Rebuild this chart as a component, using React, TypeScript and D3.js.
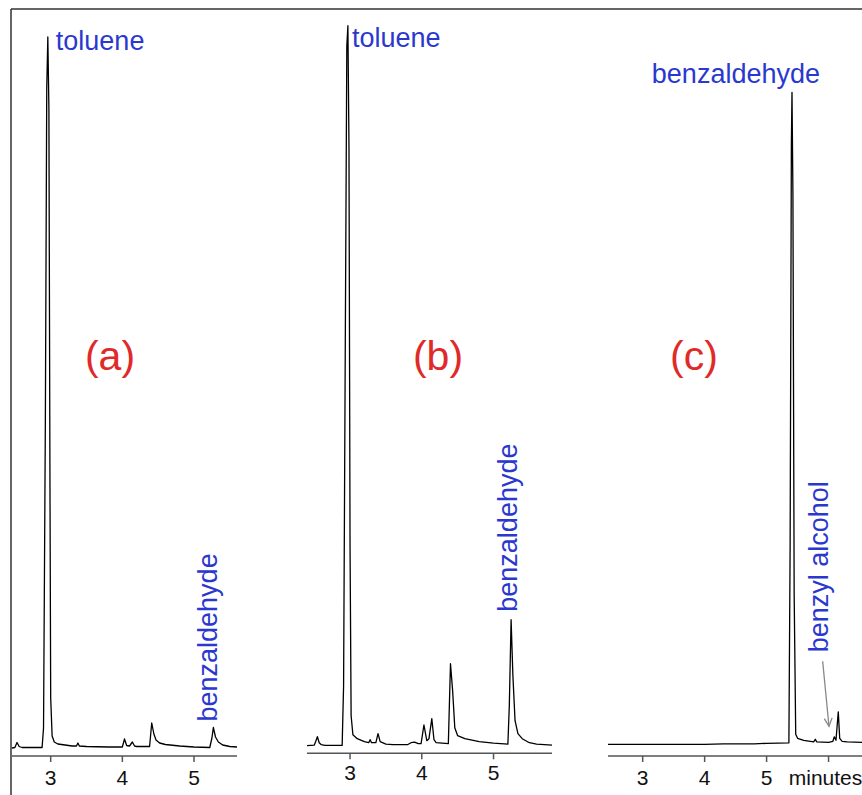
import React from "react";
import * as d3 from "d3";

// ---- data: chromatogram traces as [time (min), detector signal (a.u.)] ----
const traceA: [number, number][] = [
  [2.46, 0], [2.5, 0.5], [2.53, 5.5], [2.56, 1.5], [2.6, 0.5], [2.88, 0.5],
  [2.9, 20], [2.925, 320], [2.945, 660], [2.96, 711], [2.975, 640], [2.99, 260],
  [3.0, 50], [3.02, 12], [3.05, 6], [3.1, 4], [3.2, 3], [3.3, 2], [3.36, 2],
  [3.38, 5], [3.4, 2], [3.5, 1.5], [3.8, 1], [4.0, 1], [4.03, 9], [4.06, 2.5],
  [4.1, 2], [4.14, 6], [4.17, 2], [4.2, 1.5], [4.38, 1.5], [4.41, 25], [4.44, 14],
  [4.47, 8], [4.52, 5], [4.6, 3.5], [4.8, 2], [5.0, 1], [5.22, 0.5], [5.25, 10],
  [5.27, 20.5], [5.3, 11], [5.34, 6], [5.4, 3], [5.5, 1.5], [5.6, 1],
];

const traceB: [number, number][] = [
  [2.4, 0], [2.5, 0.5], [2.52, 4], [2.545, 9], [2.57, 3], [2.6, 1], [2.65, 0.3],
  [2.89, 0.3], [2.91, 60], [2.935, 420], [2.955, 700], [2.97, 720], [2.985, 600],
  [3.0, 200], [3.015, 30], [3.04, 11], [3.1, 7], [3.2, 4], [3.26, 3], [3.28, 6],
  [3.3, 3], [3.36, 3], [3.39, 12], [3.42, 4], [3.5, 1.5], [3.6, 1], [3.8, 1],
  [3.85, 3], [3.9, 3.5], [3.95, 2], [3.99, 2], [4.03, 20.7], [4.07, 5], [4.1, 7],
  [4.14, 27], [4.17, 6], [4.2, 3], [4.37, 2], [4.4, 82], [4.43, 55], [4.46, 18],
  [4.5, 10], [4.6, 7], [4.8, 4], [5.0, 2.5], [5.2, 1.5], [5.22, 40], [5.245, 126],
  [5.27, 70], [5.3, 25], [5.34, 12], [5.4, 7], [5.5, 3], [5.6, 1.5], [5.815, 0.5],
];

const traceC: [number, number][] = [
  [2.44, 0], [4.0, 0], [4.3, 0.5], [4.8, 0.5], [5.0, 1], [5.36, 1.5], [5.38, 200],
  [5.4, 600], [5.41, 652], [5.425, 550], [5.445, 150], [5.47, 10], [5.5, 6],
  [5.6, 4], [5.76, 2.5], [5.786, 5], [5.81, 2.5], [6.0, 2], [6.07, 3], [6.093, 7.5],
  [6.12, 4], [6.157, 32.5], [6.18, 6], [6.22, 3], [6.3, 2.5], [6.54, 2],
];

const ticksAB = [3, 4, 5];
const tickLabelsAB = ["3", "4", "5"];
const ticksC = [3, 4, 5, 6];
const tickLabelsC = ["3", "4", "5", "minutes"];

const panelNames = ["(a)", "(b)", "(c)"];

// peaks that carry a label: [time, signal]
const tolueneA: [number, number] = [2.96, 711];
const benzA: [number, number] = [5.27, 20.5];
const tolueneB: [number, number] = [2.97, 720];
const benzB: [number, number] = [5.245, 126];
const benzC: [number, number] = [5.41, 652];
const benzylArrow: [[number, number], [number, number]] = [[5.905, 83], [6.007, 18]];

const BLUE = "#2b38cf";
const RED = "#e02a2a";
const FONT = "'Liberation Sans', Arial, Helvetica, sans-serif";

export default function App() {
  const W = 862;
  const H = 795;

  const layout = [
    { trace: traceA, dom: [2.46, 5.6], rng: [12, 237], base: 748, axisY: 756, ticks: ticksAB, labels: tickLabelsAB, name: panelNames[0], nameX: 110 },
    { trace: traceB, dom: [2.4, 5.815], rng: [307, 552], base: 745.7, axisY: 753.3, ticks: ticksAB, labels: tickLabelsAB, name: panelNames[1], nameX: 438 },
    { trace: traceC, dom: [2.44, 6.54], rng: [608, 862], base: 744.3, axisY: 756, ticks: ticksC, labels: tickLabelsC, name: panelNames[2], nameX: 694 },
  ].map((p) => {
    const x = d3.scaleLinear().domain(p.dom).range(p.rng);
    const y = d3.scaleLinear().domain([0, 720]).range([p.base, p.base - 720]);
    return { ...p, x, y };
  });

  const [pa, pb, pc] = layout;

  const arrowStart = [pc.x(benzylArrow[0][0]), pc.y(benzylArrow[0][1])];
  const arrowEnd = [pc.x(benzylArrow[1][0]), pc.y(benzylArrow[1][1])];
  const ang = Math.atan2(arrowEnd[1] - arrowStart[1], arrowEnd[0] - arrowStart[0]);
  const ah = 9;
  const ahw = 0.45;
  const head = [
    [arrowEnd[0] - ah * Math.cos(ang - ahw), arrowEnd[1] - ah * Math.sin(ang - ahw)],
    arrowEnd,
    [arrowEnd[0] - ah * Math.cos(ang + ahw), arrowEnd[1] - ah * Math.sin(ang + ahw)],
  ];

  return (
    <svg
      width={W}
      height={H}
      style={{ position: "absolute", left: 0, top: 0, background: "#fff" }}
      fontFamily={FONT}
    >
      <rect x={0} y={0} width={W} height={H} fill="#fff" />
      {/* frame */}
      <line x1={11} y1={9} x2={W} y2={9} stroke="#333" strokeWidth={1.5} />
      <line x1={11} y1={9} x2={11} y2={H} stroke="#333" strokeWidth={1.5} />

      {layout.map((p, i) => {
        const line = d3
          .line<[number, number]>()
          .x((d) => p.x(d[0]))
          .y((d) => p.y(d[1]));
        return (
          <g key={i}>
            <line x1={p.rng[0]} x2={p.rng[1]} y1={p.axisY} y2={p.axisY} stroke="#555" strokeWidth={1.5} />
            {p.ticks.map((t, j) => (
              <g key={j}>
                <line x1={p.x(t)} x2={p.x(t)} y1={p.axisY} y2={p.axisY + 6} stroke="#555" strokeWidth={1.5} />
                <text
                  x={p.x(t) + (p.labels[j] === "minutes" ? -3 : 0)}
                  y={p.axisY + 29 - (i === 1 ? 2.5 : 0)}
                  fontSize={21}
                  textAnchor="middle"
                  fill="#111"
                >
                  {p.labels[j]}
                </text>
              </g>
            ))}
            <path d={line(p.trace) || ""} fill="none" stroke="#000" strokeWidth={1.3} strokeLinejoin="round" />
            <text x={p.nameX} y={370} fontSize={41} fill={RED} textAnchor="middle">
              {p.name}
            </text>
          </g>
        );
      })}

      {/* peak labels */}
      <text x={pa.x(tolueneA[0]) + 8} y={pa.y(tolueneA[1]) + 13} fontSize={27} fill={BLUE}>
        toluene
      </text>
      <text x={pb.x(tolueneB[0]) + 4} y={pb.y(tolueneB[1]) + 21} fontSize={27} fill={BLUE}>
        toluene
      </text>
      <text
        transform={`translate(${pa.x(benzA[0]) + 3.5},${pa.y(benzA[1]) - 6}) rotate(-90)`}
        fontSize={27}
        fill={BLUE}
      >
        benzaldehyde
      </text>
      <text
        transform={`translate(${pb.x(benzB[0]) + 6},${pb.y(benzB[1]) - 8}) rotate(-90)`}
        fontSize={27}
        fill={BLUE}
      >
        benzaldehyde
      </text>
      <text x={pc.x(benzC[0]) + 28} y={pc.y(benzC[1]) - 9} fontSize={27} fill={BLUE} textAnchor="end">
        benzaldehyde
      </text>
      <text
        transform={`translate(${arrowStart[0] + 5.5},${arrowStart[1] - 9}) rotate(-90)`}
        fontSize={27}
        fill={BLUE}
      >
        benzyl alcohol
      </text>
      <line x1={arrowStart[0]} y1={arrowStart[1]} x2={arrowEnd[0]} y2={arrowEnd[1]} stroke="#888" strokeWidth={1.3} />
      <polyline points={head.map((d) => d.join(",")).join(" ")} fill="none" stroke="#888" strokeWidth={1.3} />
    </svg>
  );
}
